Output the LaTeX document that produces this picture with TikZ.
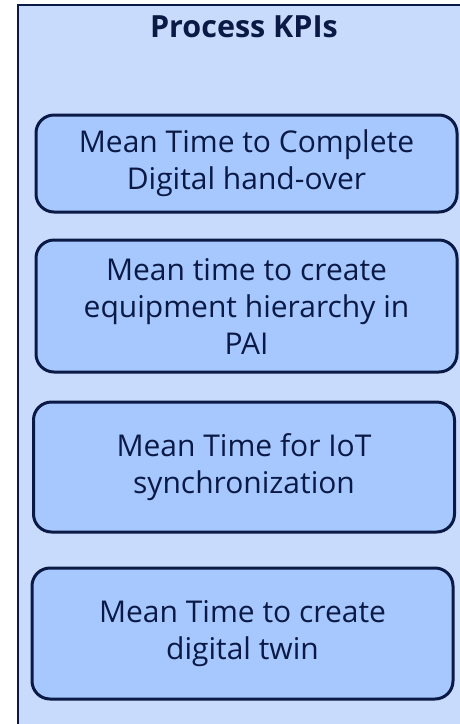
\documentclass[tikz,border=0pt]{standalone}
\usepackage{fontspec}
\setmainfont{Open Sans}
\definecolor{outerfill}{HTML}{C8DBFD}
\definecolor{boxfill}{HTML}{A6C8FF}
\definecolor{navy}{HTML}{0B1A45}
\begin{document}
\begin{tikzpicture}[x=1pt,y=-1pt,
  kpi/.style={draw=navy, line width=3pt, fill=boxfill, rounded corners=18pt,
    text=navy, align=center, font=\fontsize{30}{37}\selectfont, inner sep=0pt,
    minimum width=421pt}]
\useasboundingbox (0,0) rectangle (459,724);
\fill[white] (0,0) rectangle (459,724);
\draw[navy, line width=1.6pt, fill=outerfill] (18,5) rectangle (480,745);
\node[font=\bfseries\fontsize{30.5}{35}\selectfont, text=navy] (title) at (244,27) {Process KPIs};
\node[kpi, minimum height=97pt] (k1) at (246.5,163.5) {Mean Time to Complete\\Digital hand-over};
\node[kpi, minimum height=132pt] (k2) at (246.5,306) {Mean time to create\\equipment hierarchy in\\PAI};
\node[kpi, minimum height=130pt] (k3) at (244,467) {Mean Time for IoT\\synchronization};
\node[kpi, minimum height=131pt] (k4) at (242.5,633.5) {Mean Time to create\\digital twin};
\end{tikzpicture}
\end{document}
